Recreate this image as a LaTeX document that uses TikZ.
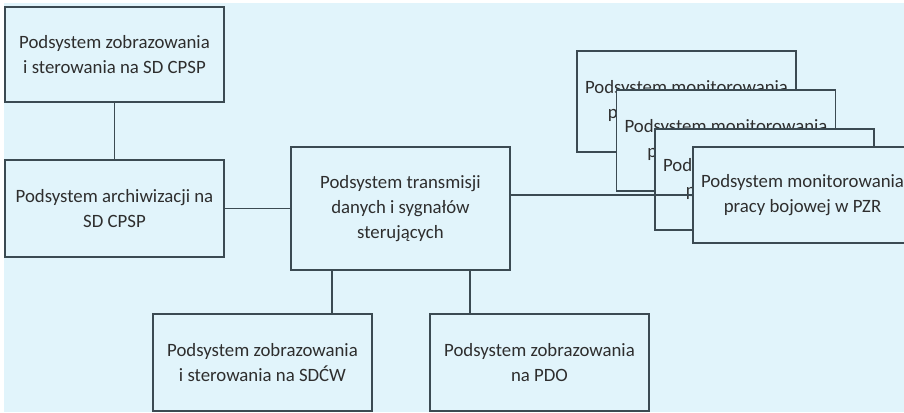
\documentclass[tikz,border=0pt]{standalone}
\usepackage{fontspec}
\setmainfont{Carlito}
\definecolor{bgc}{HTML}{E1F4FB}
\definecolor{linec}{HTML}{3B4A52}
\definecolor{txtc}{HTML}{2E2E2E}
\begin{document}
\begin{tikzpicture}[x=1pt,y=-1pt,
  box/.style={draw=linec,line width=1.3pt,fill=bgc,align=center,text=txtc,
    font=\fontsize{18.8}{25}\selectfont,inner sep=0pt},
  conn/.style={draw=linec,line width=1.3pt}]
\useasboundingbox (0,0) rectangle (904,412);
\fill[white] (0,0) rectangle (904,412);
\fill[bgc] (4,3) rectangle (904,412);
\begin{scope}
\clip (0,0) rectangle (904,412);
\node[box,minimum width=219pt,minimum height=95pt] (a) at (114.5,54.5) {Podsystem zobrazowania\\i sterowania na SD CPSP};
\node[box,minimum width=219pt,minimum height=97pt] (b) at (114.5,208.5) {Podsystem archiwizacji na\\SD CPSP};
\node[box,minimum width=219pt,minimum height=123pt] (c) at (400.5,208.5) {Podsystem transmisji\\danych i sygnałów\\sterujących};
\node[box,minimum width=219pt,minimum height=97pt] (d) at (262.5,362.5) {Podsystem zobrazowania\\i sterowania na SDĆW};
\node[box,minimum width=219pt,minimum height=97pt] (e) at (539.5,362.5) {Podsystem zobrazowania\\na PDO};
\coordinate (tap) at (693,195);
\coordinate (cd) at (332,270);
\coordinate (ce) at (470,270);
\draw[conn] (a.south) -- (b.north);
\draw[conn] (b.east) -- (b.east -| c.west);
\draw[conn] (cd) -- (d.north -| cd);
\draw[conn] (ce) -- (e.north -| ce);
\node[box,minimum width=219pt,minimum height=101pt] (s1) at (686.5,101.5) {Podsystem monitorowania\\pracy bojowej w PZR};
\node[box,minimum width=219pt,minimum height=101pt] (s2) at (726,140.5) {Podsystem monitorowania\\pracy bojowej w PZR};
\node[box,minimum width=219pt,minimum height=101pt] (s3) at (764.5,179.5) {Podsystem monitorowania\\pracy bojowej w PZR};
\draw[conn] (c.east |- tap) -- (tap);
\node[box,minimum width=219pt,minimum height=96pt] (s4) at (802.5,195) {Podsystem monitorowania\\pracy bojowej w PZR};
\end{scope}
\end{tikzpicture}
\end{document}
